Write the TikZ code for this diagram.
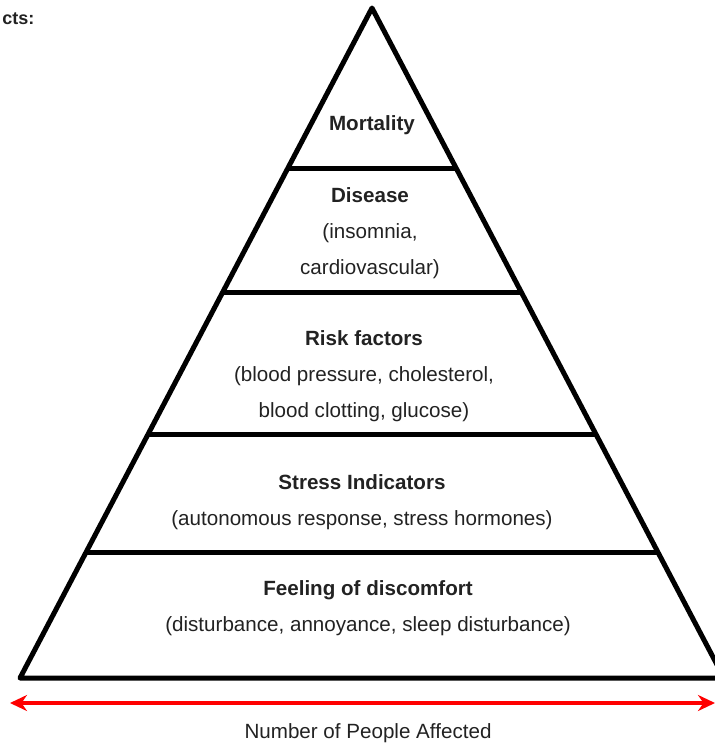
\documentclass[tikz,border=0pt]{standalone}
\usepackage{fontspec}
\setmainfont{Liberation Sans}
\usetikzlibrary{arrows.meta,calc,positioning}
\definecolor{txt}{RGB}{34,34,34}
\definecolor{axisred}{RGB}{255,0,0}

\begin{document}
\begin{tikzpicture}[x=0.5pt,y=-0.5pt,>={Stealth[length=8.5pt,width=8pt]},
  tier/.style={align=center,text=txt,font=\fontsize{10.3}{18}\selectfont},
  edge/.style={line width=2.5pt,line join=round}]
  \useasboundingbox (0,0) rectangle (715,745);
  \coordinate (apex) at (372,8);
  \coordinate (bl) at (20,678);
  \coordinate (br) at (724,678);
  \draw[edge] (bl) -- (apex) -- (br) -- cycle;
  \foreach \t in {0.2388,0.4239,0.6373,0.8134}
    \draw[edge] ($(apex)!\t!(bl)$) -- ($(apex)!\t!(br)$);
  % tiers
  \node (mort) [tier] at (372,125) {\textbf{Mortality}};
  \node (dis) [tier] at (370,233) {\textbf{Disease}\\(insomnia,\\cardiovascular)};
  \node (risk) [tier] at (364,376) {\textbf{Risk factors}\\(blood pressure, cholesterol,\\blood clotting, glucose)};
  \node (stress) [tier] at (362,502) {\textbf{Stress Indicators}\\(autonomous response, stress hormones)};
  \node (feel) [tier] at (368,608) {\textbf{Feeling of discomfort}\\(disturbance, annoyance, sleep disturbance)};
  \node (cut) [anchor=west,inner sep=1pt,text=txt,font=\fontsize{9}{11}\selectfont\bfseries] at (0,19) {cts:};
  % axis
  \coordinate (axl) at (10,703);
  \coordinate (axr) at (715,703);
  \draw[<->,axisred,line width=2pt] (axl) -- (axr);
  \node (count) [tier] at (368,733) {Number of People Affected};
\end{tikzpicture}
\end{document}
